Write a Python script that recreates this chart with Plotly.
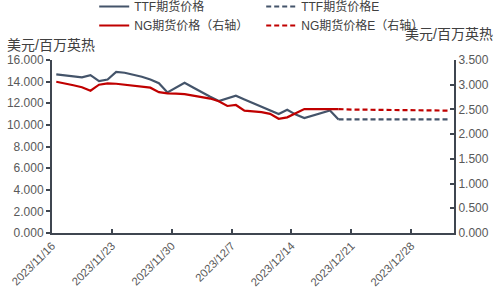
import pandas as pd
import plotly.graph_objects as go

# ---- data ----
dates = pd.date_range("2023-11-16", "2023-12-19", freq="D").strftime("%Y-%m-%d").tolist()
ttf = [14.67, 14.57, 14.48, 14.40, 14.60, 14.05, 14.20, 14.90, 14.82, 14.65,
       14.45, 14.20, 13.85, 13.00, 13.45, 13.89, 13.45, 13.00, 12.60, 12.20,
       12.45, 12.69, 12.35, 12.00, 11.65, 11.30, 11.00, 11.40, 10.95, 10.63,
       10.85, 11.10, 11.33, 10.50]
ng = [3.060, 3.030, 2.990, 2.950, 2.880, 3.000, 3.027, 3.020, 3.000, 2.985,
      2.970, 2.940, 2.850, 2.825, 2.820, 2.810, 2.780, 2.750, 2.720, 2.665,
      2.570, 2.590, 2.475, 2.460, 2.445, 2.410, 2.310, 2.340, 2.420, 2.507,
      2.507, 2.507, 2.507, 2.507]
dates_e = pd.date_range("2023-12-19", "2024-01-01", freq="D").strftime("%Y-%m-%d").tolist()
ttf_e = [10.50] * 14
ng_e = [2.507, 2.495, 2.495, 2.495, 2.495, 2.495, 2.495, 2.495, 2.490,
        2.482, 2.480, 2.480, 2.478, 2.476]
tick_dates = ["2023-11-16", "2023-11-23", "2023-11-30", "2023-12-07",
              "2023-12-14", "2023-12-21", "2023-12-28"]
tick_text = ["2023/11/16", "2023/11/23", "2023/11/30", "2023/12/7",
             "2023/12/14", "2023/12/21", "2023/12/28"]
unit = "美元/百万英热"

# points sit in the middle of each day (Excel date axis)
def mid(ds):
    return (pd.to_datetime(ds) + pd.Timedelta(hours=12)).tolist()

C_TTF = "#44546A"
C_NG = "#C00000"
FONT = "Liberation Sans, Noto Sans CJK SC, sans-serif"
AX = "#3f4650"

fig = go.Figure()
fig.add_trace(go.Scatter(x=mid(dates), y=ttf, name="TTF期货价格", mode="lines",
                         line=dict(color=C_TTF, width=2.2)))
fig.add_trace(go.Scatter(x=mid(dates_e), y=ttf_e, name="TTF期货价格E", mode="lines",
                         line=dict(color=C_TTF, width=2.2, dash="5px,3px")))
fig.add_trace(go.Scatter(x=mid(dates), y=ng, name="NG期货价格（右轴）", mode="lines",
                         yaxis="y2", line=dict(color=C_NG, width=2.2)))
fig.add_trace(go.Scatter(x=mid(dates_e), y=ng_e, name="NG期货价格E（右轴）", mode="lines",
                         yaxis="y2", line=dict(color=C_NG, width=2.2, dash="5px,3px")))

tickfont = dict(family=FONT, size=12, color="#595959")
fig.update_layout(
    width=500, height=300, autosize=False,
    margin=dict(l=52, r=46, t=60, b=67, pad=0, autoexpand=False),
    plot_bgcolor="white", paper_bgcolor="white",
    font=dict(family=FONT, size=12, color="#404040"),
    xaxis=dict(type="date", range=["2023-11-16", "2024-01-02"],
               tickvals=tick_dates, ticktext=tick_text, tickangle=-45,
               tickfont=dict(family=FONT, size=11.3, color="#595959"),
               showgrid=False, zeroline=False,
               showline=True, linecolor=AX, linewidth=2,
               ticks="inside", ticklen=4, tickcolor=AX, tickwidth=1.5),
    yaxis=dict(range=[0, 16], dtick=2, tickformat=".3f", tickfont=tickfont,
               showgrid=False, zeroline=False, showline=True, linecolor=AX,
               linewidth=2, ticks="outside", ticklen=4, tickcolor=AX, tickwidth=1.5),
    yaxis2=dict(range=[0, 3.5], dtick=0.5, tickformat=".3f", tickfont=tickfont,
                overlaying="y", side="right", showgrid=False, zeroline=False,
                showline=True, linecolor=AX, linewidth=2, ticks="inside",
                ticklen=4, tickcolor=AX, tickwidth=1.5),
    legend=dict(orientation="h", x=0.105, xanchor="left",
                y=1.393, yanchor="top",
                entrywidth=122, entrywidthmode="pixels", tracegroupgap=0,
                font=dict(family=FONT, size=12, color="#404040"),
                bgcolor="rgba(0,0,0,0)", itemwidth=30),
    showlegend=True,
)
fig.add_annotation(text=unit, xref="paper", yref="paper", x=-0.118, y=1.03,
                   xanchor="left", yanchor="bottom", showarrow=False,
                   font=dict(family=FONT, size=14, color="#404040"))
fig.add_annotation(text=unit, xref="paper", yref="paper", x=1.102, y=1.095,
                   xanchor="right", yanchor="bottom", showarrow=False,
                   font=dict(family=FONT, size=14, color="#404040"))

fig.write_html("out.html")
